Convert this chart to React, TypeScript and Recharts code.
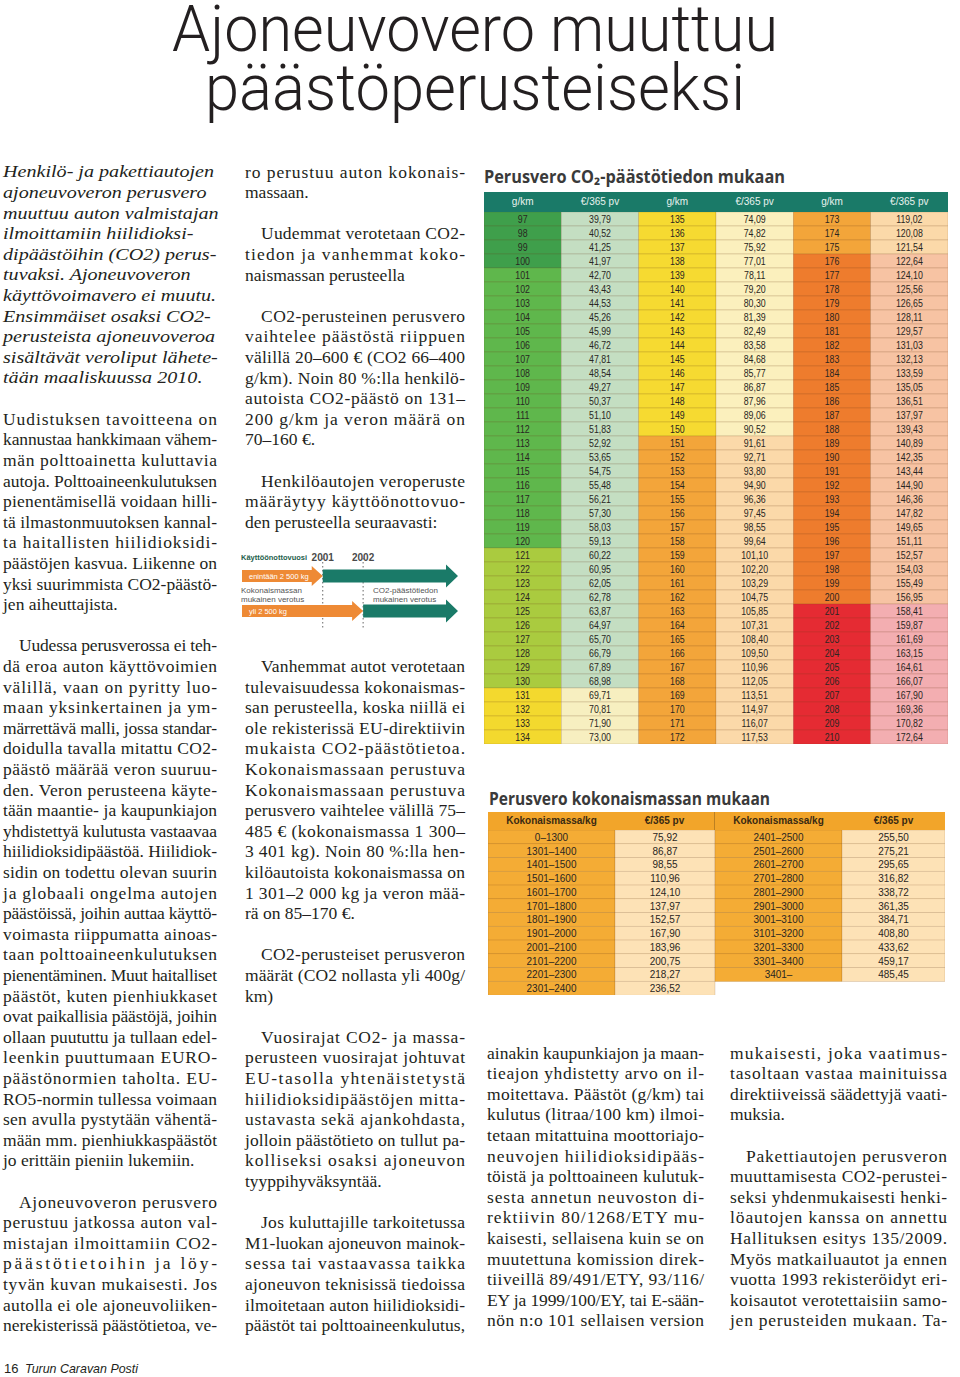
import React from "react";
import { BarChart, Bar, XAxis, YAxis, ReferenceLine } from "recharts";

// ---------------- DATA ----------------
const CO2_HEADERS = ["g/km", "€/365 pv", "g/km", "€/365 pv", "g/km", "€/365 pv"];
const CO2_GKM_A = [97, 98, 99, 100, 101, 102, 103, 104, 105, 106, 107, 108, 109, 110, 111, 112, 113, 114, 115, 116, 117, 118, 119, 120, 121, 122, 123, 124, 125, 126, 127, 128, 129, 130, 131, 132, 133, 134];
const CO2_EUR_A = [39.79, 40.52, 41.25, 41.97, 42.7, 43.43, 44.53, 45.26, 45.99, 46.72, 47.81, 48.54, 49.27, 50.37, 51.1, 51.83, 52.92, 53.65, 54.75, 55.48, 56.21, 57.3, 58.03, 59.13, 60.22, 60.95, 62.05, 62.78, 63.87, 64.97, 65.7, 66.79, 67.89, 68.98, 69.71, 70.81, 71.9, 73.0];
const CO2_GKM_B = [135, 136, 137, 138, 139, 140, 141, 142, 143, 144, 145, 146, 147, 148, 149, 150, 151, 152, 153, 154, 155, 156, 157, 158, 159, 160, 161, 162, 163, 164, 165, 166, 167, 168, 169, 170, 171, 172];
const CO2_EUR_B = [74.09, 74.82, 75.92, 77.01, 78.11, 79.2, 80.3, 81.39, 82.49, 83.58, 84.68, 85.77, 86.87, 87.96, 89.06, 90.52, 91.61, 92.71, 93.8, 94.9, 96.36, 97.45, 98.55, 99.64, 101.1, 102.2, 103.29, 104.75, 105.85, 107.31, 108.4, 109.5, 110.96, 112.05, 113.51, 114.97, 116.07, 117.53];
const CO2_GKM_C = [173, 174, 175, 176, 177, 178, 179, 180, 181, 182, 183, 184, 185, 186, 187, 188, 189, 190, 191, 192, 193, 194, 195, 196, 197, 198, 199, 200, 201, 202, 203, 204, 205, 206, 207, 208, 209, 210];
const CO2_EUR_C = [119.02, 120.08, 121.54, 122.64, 124.1, 125.56, 126.65, 128.11, 129.57, 131.03, 132.13, 133.59, 135.05, 136.51, 137.97, 139.43, 140.89, 142.35, 143.44, 144.9, 146.36, 147.82, 149.65, 151.11, 152.57, 154.03, 155.49, 156.95, 158.41, 159.87, 161.69, 163.15, 164.61, 166.07, 167.9, 169.36, 170.82, 172.64];

const MASS_HEADERS = ["Kokonaismassa/kg", "€/365 pv", "Kokonaismassa/kg", "€/365 pv"];
const MASS_RANGE_A = ["0–1300", "1301–1400", "1401–1500", "1501–1600", "1601–1700", "1701–1800", "1801–1900", "1901–2000", "2001–2100", "2101–2200", "2201–2300", "2301–2400"];
const MASS_EUR_A = [75.92, 86.87, 98.55, 110.96, 124.1, 137.97, 152.57, 167.9, 183.96, 200.75, 218.27, 236.52];
const MASS_RANGE_B = ["2401–2500", "2501–2600", "2601–2700", "2701–2800", "2801–2900", "2901–3000", "3001–3100", "3101–3200", "3201–3300", "3301–3400", "3401–"];
const MASS_EUR_B = [255.5, 275.21, 295.65, 316.82, 338.72, 361.35, 384.71, 408.8, 433.62, 459.17, 485.45];

const TIMELINE_GROUPS = ["enintään 2 500 kg", "yli 2 500 kg"];
const TIMELINE_SWITCH_YEARS = [2001, 2002];
const TIMELINE_TICKS = [2001, 2002];
const TIMELINE_START = 1999;
const TIMELINE_END = 2004.35;

// ---------------- TEXT ----------------
type Para = { lines: string[]; indent?: boolean; italic?: boolean; ragged?: boolean; cont?: boolean };
type Item = Para | number;

const COL1: Item[] = [
  { italic: true, ragged: true, lines: ["Henkilö- ja pakettiautojen", "ajoneuvoveron perusvero", "muuttuu auton valmistajan", "ilmoittamiin hiilidioksi-", "dipäästöihin (CO2) perus-", "tuvaksi. Ajoneuvoveron", "käyttövoimavero ei muutu.", "Ensimmäiset osaksi CO2-", "perusteista ajoneuvoveroa", "sisältävät veroliput lähete-", "tään maaliskuussa 2010."] },
  1,
  { lines: ["Uudistuksen tavoitteena on", "kannustaa hankkimaan vähem-", "män polttoainetta kuluttavia", "autoja. Polttoaineenkulutuksen", "pienentämisellä voidaan hilli-", "tä ilmastonmuutoksen kannal-", "ta haitallisten hiilidioksidi-", "päästöjen kasvua. Liikenne on", "yksi suurimmista CO2-päästö-", "jen aiheuttajista."] },
  1,
  { indent: true, lines: ["Uudessa perusverossa ei teh-", "dä eroa auton käyttövoimien", "välillä, vaan on pyritty luo-", "maan yksinkertainen ja ym-", "märrettävä malli, jossa standar-", "doidulla tavalla mitattu CO2-", "päästö määrää veron suuruu-", "den. Veron perusteena käyte-", "tään maantie- ja kaupunkiajon", "yhdistettyä kulutusta vastaavaa", "hiilidioksidipäästöä. Hiilidiok-", "sidin on todettu olevan suurin", "ja globaali ongelma autojen", "päästöissä, joihin auttaa käyttö-", "voimasta riippumatta ainoas-", "taan polttoaineenkulutuksen", "pienentäminen. Muut haitalliset", "päästöt, kuten pienhiukkaset", "ovat paikallisia päästöjä, joihin", "ollaan puututtu ja tullaan edel-", "leenkin puuttumaan EURO-", "päästönormien taholta. EU-", "RO5-normin tullessa voimaan", "sen avulla pystytään vähentä-", "mään mm. pienhiukkaspäästöt", "jo erittäin pieniin lukemiin."] },
  1,
  { indent: true, cont: true, lines: ["Ajoneuvoveron perusvero", "perustuu jatkossa auton val-", "mistajan ilmoittamiin CO2-", "päästötietoihin ja löy-", "tyvän kuvan mukaisesti. Jos", "autolla ei ole ajoneuvoliiken-", "nerekisterissä päästötietoa, ve-"] },
];

const COL2: Item[] = [
  { lines: ["ro perustuu auton kokonais-", "massaan."] },
  1,
  { indent: true, lines: ["Uudemmat verotetaan CO2-", "tiedon ja vanhemmat koko-", "naismassan perusteella"] },
  1,
  { indent: true, lines: ["CO2-perusteinen perusvero", "vaihtelee päästöstä riippuen", "välillä 20–600 € (CO2 66–400", "g/km). Noin 80 %:lla henkilö-", "autoista CO2-päästö on 131–", "200 g/km ja veron määrä on", "70–160 €."] },
  1,
  { indent: true, lines: ["Henkilöautojen veroperuste", "määräytyy käyttöönottovuo-", "den perusteella seuraavasti:"] },
  6,
  { indent: true, lines: ["Vanhemmat autot verotetaan", "tulevaisuudessa kokonaismas-", "san perusteella, koska niillä ei", "ole rekisterissä EU-direktiivin", "mukaista CO2-päästötietoa.", "Kokonaismassaan perustuva", "Kokonaismassaan perustuva", "perusvero vaihtelee välillä 75–", "485 € (kokonaismassa 1 300–", "3 401 kg). Noin 80 %:lla hen-", "kilöautoista kokonaismassa on", "1 301–2 000 kg ja veron mää-", "rä on 85–170 €."] },
  1,
  { indent: true, lines: ["CO2-perusteiset perusveron", "määrät (CO2 nollasta yli 400g/", "km)"] },
  1,
  { indent: true, lines: ["Vuosirajat CO2- ja massa-", "perusteen vuosirajat johtuvat", "EU-tasolla yhtenäistetystä", "hiilidioksidipäästöjen mitta-", "ustavasta sekä ajankohdasta,", "jolloin päästötieto on tullut pa-", "kolliseksi osaksi ajoneuvon", "tyyppihyväksyntää."] },
  1,
  { indent: true, cont: true, lines: ["Jos kuluttajille tarkoitetussa", "M1-luokan ajoneuvon mainok-", "sessa tai vastaavassa taikka", "ajoneuvon teknisissä tiedoissa", "ilmoitetaan auton hiilidioksidi-", "päästöt tai polttoaineenkulutus,"] },
];

const COL3: Item[] = [
  { cont: true, lines: ["ainakin kaupunkiajon ja maan-", "tieajon yhdistetty arvo on il-", "moitettava. Päästöt (g/km) tai", "kulutus (litraa/100 km) ilmoi-", "tetaan mitattuina moottoriajo-", "neuvojen hiilidioksidipääs-", "töistä ja polttoaineen kulutuk-", "sesta annetun neuvoston di-", "rektiivin 80/1268/ETY mu-", "kaisesti, sellaisena kuin se on", "muutettuna komission direk-", "tiiveillä 89/491/ETY, 93/116/", "EY ja 1999/100/EY, tai E-sään-", "nön n:o 101 sellaisen version"] },
];

const COL4: Item[] = [
  { lines: ["mukaisesti, joka vaatimus-", "tasoltaan vastaa mainituissa", "direktiiveissä säädettyjä vaati-", "muksia."] },
  1,
  { indent: true, cont: true, lines: ["Pakettiautojen perusveron", "muuttamisesta CO2-perustei-", "seksi yhdenmukaisesti henki-", "löautojen kanssa on annettu", "Hallituksen esitys 135/2009.", "Myös matkailuautot ja ennen", "vuotta 1993 rekisteröidyt eri-", "koisautot verotettaisiin samo-", "jen perusteiden mukaan. Ta-"] },
];

// ---------------- STYLE / LAYOUT ----------------
const BODY_FONT = "'Liberation Serif', 'Times New Roman', serif";
const SANS = "'Liberation Sans', Arial, sans-serif";
const TEXT_COLOR = "#231f20";
const PITCH = 20.6;
const INDENT = 16;
const BODY_SIZE = 17.5;
const ITALIC_STRETCH = 1.15;

const TEAL = "#1a7a68";
const ORANGE = "#ee8a35";

const fmt = (v: number) => v.toFixed(2).replace(".", ",");

// color rules for CO2 table
const gFillA = (g: number) => (g <= 100 ? "#3f9f4b" : g <= 120 ? "#5fb74c" : g <= 130 ? "#aacb3f" : "#f3d92e");
const eFillA = (g: number) => (g <= 130 ? "#c4dec2" : "#f7efc0");
const gFillB = (g: number) => (g <= 150 ? "#f6da31" : "#f3a53a");
const eFillB = (g: number) => (g <= 150 ? "#fbf0bd" : "#fbd9a9");
const gFillC = (g: number) => (g <= 175 ? "#f3a53a" : g <= 200 ? "#ee7c2d" : "#e52b33");
const eFillC = (g: number) => (g <= 175 ? "#fbd9a9" : g <= 200 ? "#f7c3a3" : "#f3aeb1");

type ColSpec = { text: (r: any) => string | null; fill: (r: any) => string };

const CO2_COLS: ColSpec[] = [
  { text: (r) => String(r.gA), fill: (r) => gFillA(r.gA) },
  { text: (r) => fmt(r.eA), fill: (r) => eFillA(r.gA) },
  { text: (r) => String(r.gB), fill: (r) => gFillB(r.gB) },
  { text: (r) => fmt(r.eB), fill: (r) => eFillB(r.gB) },
  { text: (r) => String(r.gC), fill: (r) => gFillC(r.gC) },
  { text: (r) => fmt(r.eC), fill: (r) => eFillC(r.gC) },
];
const CO2_COL_W = [1, 1, 1, 1, 1, 1];
const CO2_KEYS = CO2_COL_W.map((w) => (_r: any) => w);

const MASS_COLS: ColSpec[] = [
  { text: (r) => r.mA ?? null, fill: () => "#f4ac35" },
  { text: (r) => (r.eA == null ? null : fmt(r.eA)), fill: () => "#fde2b6" },
  { text: (r) => r.mB ?? null, fill: () => "#f4ac35" },
  { text: (r) => (r.eB == null ? null : fmt(r.eB)), fill: () => "#fde2b6" },
];
const MASS_COL_W = [127, 100, 127, 103];
const MASS_KEYS = MASS_COL_W.map((w) => (_r: any) => w);

const co2Rows = CO2_GKM_A.map((g, i) => ({
  id: String(i),
  gA: g,
  eA: CO2_EUR_A[i],
  gB: CO2_GKM_B[i],
  eB: CO2_EUR_B[i],
  gC: CO2_GKM_C[i],
  eC: CO2_EUR_C[i],
}));

const massRows = MASS_RANGE_A.map((m, i) => ({
  id: String(i),
  mA: m,
  eA: MASS_EUR_A[i],
  mB: MASS_RANGE_B[i],
  eB: MASS_EUR_B[i],
}));

const timelineRows = TIMELINE_GROUPS.map((g, i) => ({ group: g, switchYear: TIMELINE_SWITCH_YEARS[i] }));
const tlBefore = (d: any) => [TIMELINE_START, d.switchYear];
const tlAfter = (d: any) => [d.switchYear, TIMELINE_END];

function cellShape(spec: ColSpec, fontSize: number, condense: number, bold: boolean) {
  return (props: any) => {
    const { x, y, width, height, payload } = props;
    const txt = spec.text(payload);
    if (txt == null || width <= 0) return <g />;
    const cx = x + width / 2;
    const cy = y + height / 2;
    return (
      <g>
        <rect x={x} y={y} width={width} height={height} fill={spec.fill(payload)} stroke="rgba(110,70,30,0.28)" strokeWidth={0.6} />
        <text
          transform={`translate(${cx},${cy + fontSize * 0.36}) scale(${condense},1)`}
          textAnchor="middle"
          fontSize={fontSize}
          fontFamily={SANS}
          fontWeight={bold ? 700 : 400}
          fill="#2a2622"
        >
          {txt}
        </text>
      </g>
    );
  };
}

function arrowShape(color: string, bodyH: number, headH: number, headL: number, withLabel: boolean) {
  return (props: any) => {
    const { x, y, width, height, payload } = props;
    const cy = y + height / 2;
    const xe = x + width;
    const xb = xe - headL;
    const pts = [
      [x, cy - bodyH / 2],
      [xb, cy - bodyH / 2],
      [xb, cy - headH / 2],
      [xe, cy],
      [xb, cy + headH / 2],
      [xb, cy + bodyH / 2],
      [x, cy + bodyH / 2],
    ]
      .map((p) => p.join(","))
      .join(" ");
    return (
      <g>
        <polygon points={pts} fill={color} />
        {withLabel && (
          <text x={x + 7} y={cy + 2.8} fontSize={7.5} fontFamily={SANS} fill="#fff">
            {payload.group}
          </text>
        )}
      </g>
    );
  };
}

function YearTick(props: any) {
  const { x, payload } = props;
  return (
    <text x={x} y={15} textAnchor="middle" fontSize={10} fontWeight={700} fontFamily={SANS} fill="#4a4a4a">
      {payload.value}
    </text>
  );
}

function renderColumn(items: Item[], x: number, width: number, top: number, keyPrefix: string) {
  const out: React.ReactNode[] = [];
  let idx = 0;
  items.forEach((item, pi) => {
    if (typeof item === "number") {
      idx += item;
      return;
    }
    item.lines.forEach((ln, li) => {
      const isLast = li === item.lines.length - 1;
      const justify = !item.ragged && (!isLast || !!item.cont);
      const ind = item.indent && li === 0 ? INDENT : 0;
      const y = top + idx * PITCH;
      const xx = x + ind;
      out.push(
        <text
          key={`${keyPrefix}-${pi}-${li}`}
          x={xx}
          y={y}
          fontSize={BODY_SIZE}
          fontFamily={BODY_FONT}
          fontStyle={item.italic ? "italic" : undefined}
          fill={TEXT_COLOR}
          transform={item.italic ? `translate(${xx},0) scale(${ITALIC_STRETCH},1) translate(${-xx},0)` : undefined}
          {...(justify ? { textLength: width - ind, lengthAdjust: "spacing" } : {})}
        >
          {ln}
        </text>
      );
      idx++;
    });
  });
  return out;
}

export default function App() {
  const co2Header = CO2_HEADERS.map((h, i) => (
    <div
      key={i}
      style={{
        width: 464 / 6,
        height: 20,
        lineHeight: "20px",
        textAlign: "center",
        color: "#e8f2ee",
        fontFamily: SANS,
        fontSize: 10,
      }}
    >
      {h}
    </div>
  ));
  const massHeader = MASS_HEADERS.map((h, i) => (
    <div
      key={i}
      style={{
        width: MASS_COL_W[i],
        height: 18,
        lineHeight: "18px",
        textAlign: "center",
        color: "#3a2a12",
        fontFamily: SANS,
        fontWeight: 700,
        fontSize: 10,
        borderRight: i === 1 ? "1px solid rgba(90,60,20,0.35)" : undefined,
        boxSizing: "border-box",
      }}
    >
      {h}
    </div>
  ));

  return (
    <div style={{ position: "absolute", left: 0, top: 0, width: 960, height: 1377, background: "#fff", overflow: "hidden" }}>
      <svg width={960} height={1377} style={{ position: "absolute", left: 0, top: 0 }}>
        {/* Title */}
        <text x={172} y={51} fontSize={64} fontFamily="Roboto, 'Liberation Sans', sans-serif" fontWeight={300} fill={TEXT_COLOR} textLength={606} lengthAdjust="spacingAndGlyphs">
          Ajoneuvovero muuttuu
        </text>
        <text x={205} y={110} fontSize={64} fontFamily="Roboto, 'Liberation Sans', sans-serif" fontWeight={300} fill={TEXT_COLOR} textLength={540} lengthAdjust="spacingAndGlyphs">
          päästöperusteiseksi
        </text>

        {/* Body columns */}
        {renderColumn(COL1, 3, 214, 177.5, "c1")}
        {renderColumn(COL2, 245, 220, 177.5, "c2")}
        {renderColumn(COL3, 487, 217, 1058.5, "c3")}
        {renderColumn(COL4, 730, 217, 1058.5, "c4")}

        {/* Table titles */}
        <text x={484} y={183} fontSize={18} fontWeight={700} fontFamily="'Open Sans', 'Liberation Sans', sans-serif" fill="#3a3a3a" textLength={301} lengthAdjust="spacingAndGlyphs">
          Perusvero CO₂-päästötiedon mukaan
        </text>
        <text x={489} y={805} fontSize={18} fontWeight={700} fontFamily="'Open Sans', 'Liberation Sans', sans-serif" fill="#3a3a3a" textLength={281} lengthAdjust="spacingAndGlyphs">
          Perusvero kokonaismassan mukaan
        </text>

        {/* Timeline labels */}
        <text x={241} y={560} fontSize={7.5} fontWeight={700} fontFamily={SANS} fill="#1d5e4b" textLength={66} lengthAdjust="spacingAndGlyphs">
          Käyttöönottovuosi
        </text>
        <text x={241} y={593} fontSize={8} fontFamily={SANS} fill="#555">Kokonaismassan</text>
        <text x={241} y={602} fontSize={8} fontFamily={SANS} fill="#555">mukainen verotus</text>
        <text x={373} y={593} fontSize={8} fontFamily={SANS} fill="#555">CO2-päästötiedon</text>
        <text x={373} y={602} fontSize={8} fontFamily={SANS} fill="#555">mukainen verotus</text>

        {/* Footer */}
        <text x={4} y={1373} fontSize={13} fontFamily={SANS} fill={TEXT_COLOR}>16</text>
        <text x={25} y={1373} fontSize={13} fontStyle="italic" fontFamily={SANS} fill={TEXT_COLOR} textLength={113} lengthAdjust="spacingAndGlyphs">
          Turun Caravan Posti
        </text>
      </svg>

      {/* CO2 table */}
      <div style={{ position: "absolute", left: 484, top: 192, width: 464, height: 20, background: TEAL, display: "flex" }}>{co2Header}</div>
      <div style={{ position: "absolute", left: 484, top: 212 }}>
        <BarChart layout="vertical" width={464} height={532} data={co2Rows} margin={{ top: 0, right: 0, bottom: 0, left: 0 }} barCategoryGap={0}>
          <XAxis type="number" domain={[0, 6]} hide />
          <YAxis type="category" dataKey="id" hide />
          {CO2_COLS.map((c, i) => (
            <Bar key={i} dataKey={CO2_KEYS[i]} stackId="t" isAnimationActive={false} shape={cellShape(c, 11, 0.8, false)} />
          ))}
        </BarChart>
      </div>

      {/* Mass table */}
      <div style={{ position: "absolute", left: 488, top: 812, width: 457, height: 18, background: "#f2a52a", display: "flex" }}>{massHeader}</div>
      <div style={{ position: "absolute", left: 488, top: 830 }}>
        <BarChart layout="vertical" width={457} height={165} data={massRows} margin={{ top: 0, right: 0, bottom: 0, left: 0 }} barCategoryGap={0}>
          <XAxis type="number" domain={[0, 457]} hide />
          <YAxis type="category" dataKey="id" hide />
          {MASS_COLS.map((c, i) => (
            <Bar key={i} dataKey={MASS_KEYS[i]} stackId="m" isAnimationActive={false} shape={cellShape(c, 10.5, 0.95, false)} />
          ))}
        </BarChart>
      </div>

      {/* Timeline graphic */}
      <div style={{ position: "absolute", left: 236, top: 546 }}>
        <BarChart
          layout="vertical"
          width={226}
          height={82}
          data={timelineRows}
          margin={{ top: 0, right: 4, bottom: 0, left: 6 }}
          barCategoryGap={0}
          barSize={24}
          barGap={-24}
        >
          <XAxis
            type="number"
            orientation="top"
            domain={[TIMELINE_START, TIMELINE_END]}
            ticks={TIMELINE_TICKS}
            interval={0}
            height={12}
            axisLine={false}
            tickLine={false}
            tick={<YearTick />}
            allowDataOverflow
          />
          <YAxis type="category" dataKey="group" hide />
          {TIMELINE_TICKS.map((t) => (
            <ReferenceLine key={t} x={t} stroke="#666" strokeDasharray="1.5 2.5" strokeWidth={1} {...({ zIndex: 50 } as any)} />
          ))}
          <Bar dataKey={tlAfter} isAnimationActive={false} fill={TEAL} shape={arrowShape(TEAL, 13, 23, 12, false)} />
          <Bar dataKey={tlBefore} isAnimationActive={false} fill={ORANGE} shape={arrowShape(ORANGE, 12, 20, 11, true)} />
        </BarChart>
      </div>
    </div>
  );
}
